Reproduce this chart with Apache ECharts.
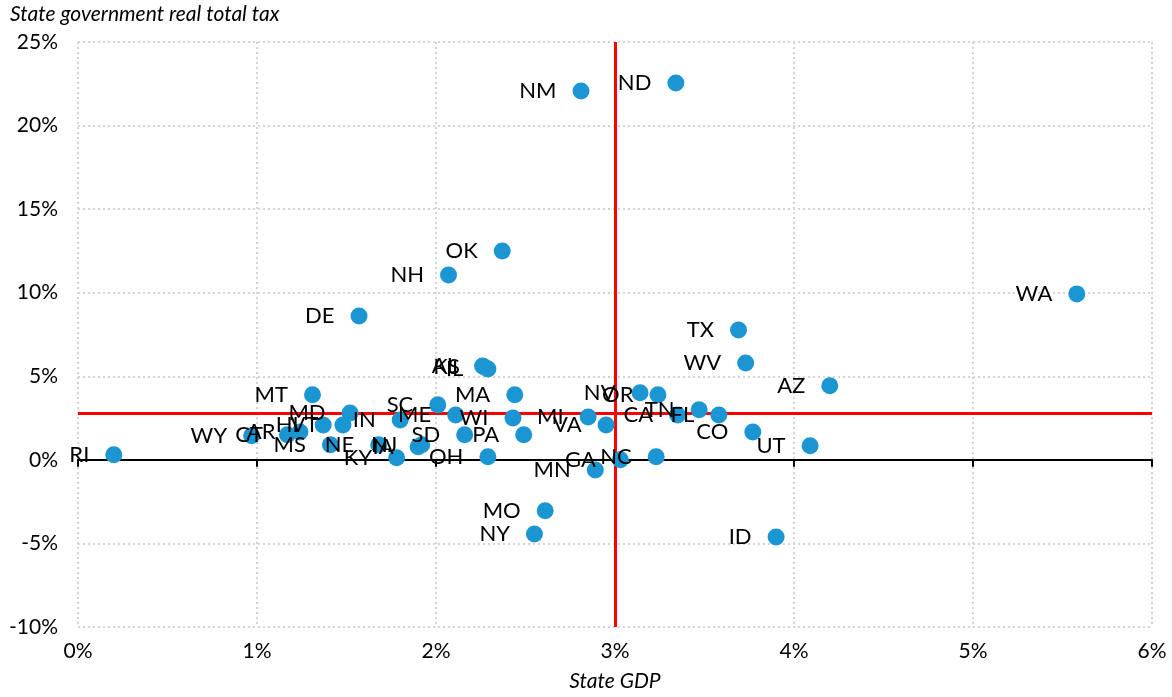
<!DOCTYPE html>
<html>
<head>
<meta charset="utf-8">
<script src="https://cdn.jsdelivr.net/npm/echarts@6/dist/echarts.min.js"></script>
<style>
  html, body { margin: 0; padding: 0; background: #fff; }
  #chart { width: 1172px; height: 697px; }
</style>
</head>
<body>
<div id="chart"></div>
<script>
// state codes, GDP growth (x, %) and real total tax growth (y, %)
const states = ['RI','WY','AR','CT','HI','VT','MS','MT','MD','IN','SC','ME','MA','WI','PA','MI','VA','CA','NV','OR',
  'FL','TN','CO','UT','GA','NC','MN','NE','NJ','IA','KY','SD','OH','AL','KS','IL','ND','NM','OK','NH',
  'DE','WA','TX','WV','AZ','MO','NY','ID']
const gdp = [0.20,0.97,1.24,1.17,1.37,1.48,1.41,1.31,1.52,1.80,2.01,2.11,2.44,2.43,2.49,2.85,2.95,3.35,3.14,3.24,
  3.58,3.47,3.77,4.09,3.03,3.23,2.89,1.68,1.92,1.90,1.78,2.16,2.29,2.26,2.27,2.29,3.34,2.81,2.37,2.07,
  1.57,5.58,3.69,3.73,4.20,2.61,2.55,3.90]
const tax = [0.30,1.44,1.67,1.50,2.09,2.09,0.90,3.89,2.81,2.39,3.29,2.69,3.89,2.51,1.50,2.57,2.09,2.69,4.01,3.89,
  2.69,3.00,1.67,0.84,0.00,0.18,-0.60,0.90,0.90,0.78,0.12,1.50,0.18,5.62,5.56,5.44,22.55,22.07,12.50,11.06,
  8.61,9.93,7.77,5.80,4.43,-3.05,-4.43,-4.61]
// red reference lines
const refGdp = 3.0
const refTax = 2.81

const font = 'Lato, "Open Sans", sans-serif'
const chart = echarts.init(document.getElementById('chart'))

const points = states.map((s, i) => [gdp[i], tax[i], s])

const option = {
  backgroundColor: '#fff',
  animation: false,
  textStyle: { fontFamily: font },
  grid: { left: 78, right: 20, top: 42, bottom: 66 },
  xAxis: [{
    type: 'value',
    min: 0, max: 6, interval: 1,
    axisLine: { show: false, onZero: false },
    axisTick: { show: false },
    axisLabel: { color: '#000', fontSize: 21, margin: 14, formatter: v => v + '%' },
    splitLine: { show: true, lineStyle: { color: '#d4d4d4', type: [2, 3], width: 2 } },
    name: 'State GDP',
    nameLocation: 'middle',
    nameGap: 44,
    nameTextStyle: { color: '#000', fontSize: 21, fontStyle: 'italic' }
  }, {
    // zero line with ticks
    type: 'value',
    min: 0, max: 6, interval: 1,
    position: 'bottom',
    axisLine: { show: true, onZero: true, lineStyle: { color: '#000', width: 2 } },
    axisTick: { show: true, length: 7, lineStyle: { color: '#000', width: 2 } },
    axisLabel: { show: false },
    splitLine: { show: false }
  }],
  yAxis: {
    type: 'value',
    min: -10, max: 25, interval: 5,
    axisLine: { show: false },
    axisTick: { show: false },
    axisLabel: { color: '#000', fontSize: 21, margin: 20, formatter: v => v + '%' },
    splitLine: { show: true, lineStyle: { color: '#d4d4d4', type: [2, 3], width: 2 } },
    name: 'State government real total tax',
    nameLocation: 'end',
    nameGap: 17,
    nameTextStyle: { color: '#000', fontSize: 21, fontStyle: 'italic', align: 'left', padding: [0, 0, 0, -68] }
  },
  series: [{
    type: 'scatter',
    xAxisIndex: 0,
    symbolSize: 17,
    itemStyle: { color: '#1b96d3', opacity: 1 },
    label: {
      show: true,
      position: 'left',
      distance: 16,
      color: '#000',
      fontSize: 22,
      formatter: p => p.data[2]
    },
    labelLayout: { hideOverlap: false },
    data: points,
    z: 3,
    markLine: {
      silent: true,
      symbol: 'none',
      label: { show: false },
      lineStyle: { color: '#ff0000', width: 3, type: 'solid' },
      data: [{ xAxis: refGdp }, { yAxis: refTax }],
      z: 2
    }
  }]
}

chart.setOption(option)
window.onresize = function () {
  chart.resize()
}
</script>
</body>
</html>
